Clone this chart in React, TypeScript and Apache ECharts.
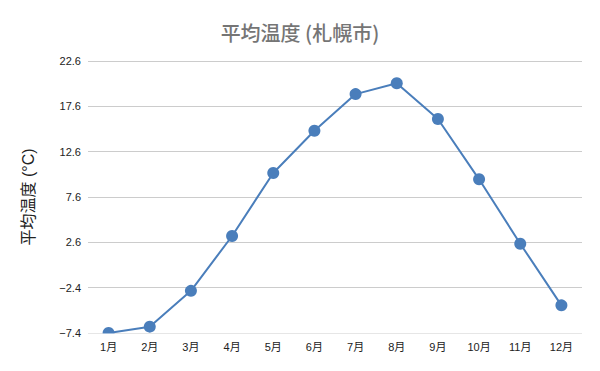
import React, { useEffect, useRef } from "react";
import * as echarts from "echarts";

const months = ["1月", "2月", "3月", "4月", "5月", "6月", "7月", "8月", "9月", "10月", "11月", "12月"];
const avgTemp = [-7.4, -6.7, -2.75, 3.3, 10.25, 14.9, 18.95, 20.15, 16.2, 9.55, 2.45, -4.35];
const yMin = -7.4;
const yMax = 22.6;
const yStep = 5;

const FONT = "'Liberation Sans', Arial, 'Noto Sans CJK JP', sans-serif";
const TITLE_FONT = "'Noto Sans CJK JP', 'Liberation Sans', sans-serif";

export default function App() {
  const ref = useRef<HTMLDivElement>(null);
  useEffect(() => {
    document.body.style.margin = "0";
    if (!ref.current) return;
    const chart = echarts.init(ref.current, undefined, { renderer: "svg" });
    chart.setOption({
      animation: false,
      backgroundColor: "#ffffff",
      textStyle: { fontFamily: FONT },
      title: {
        text: "平均温度 (札幌市)",
        left: "center",
        top: 17,
        textStyle: { fontSize: 20, fontWeight: 500, color: "#757575", fontFamily: TITLE_FONT },
      },
      grid: { left: 88, right: 18, top: 61, bottom: 38, containLabel: false },
      xAxis: {
        type: "category",
        data: months,
        boundaryGap: true,
        axisLine: { show: false },
        axisTick: { show: false },
        axisLabel: { color: "#222222", fontSize: 11, margin: 8, fontFamily: FONT },
      },
      yAxis: {
        type: "value",
        min: yMin,
        max: yMax,
        interval: yStep,
        name: "平均温度 (°C)",
        nameLocation: "middle",
        nameRotate: 90,
        nameGap: 52,
        nameTextStyle: { fontSize: 16, color: "#222222", fontFamily: FONT },
        axisLine: { show: false },
        axisTick: { show: false },
        axisLabel: {
          color: "#222222",
          fontSize: 11,
          margin: 7,
          fontFamily: FONT,
          formatter: (v: number) => (Math.round(v * 10) / 10).toFixed(1).replace("-", "−"),
        },
        splitLine: { lineStyle: { color: "#cccccc", width: 1 } },
      },
      series: [
        {
          type: "line",
          data: avgTemp,
          symbol: "circle",
          symbolSize: 12,
          itemStyle: { color: "#4a7ebb" },
          lineStyle: { color: "#4a7ebb", width: 2 },
          clip: false,
          z: 2,
        },
      ],
    });
    // white mask below the plot area so markers are clipped at the bottom edge like the reference
    const yb = chart.convertToPixel({ yAxisIndex: 0 }, yMin) as number;
    chart.setOption({
      graphic: [
        {
          type: "rect",
          z: 5,
          silent: true,
          shape: { x: 88, y: yb + 0.6, width: 600 - 88 - 18, height: 7 },
          style: { fill: "#ffffff" },
        },
      ],
    });
    return () => chart.dispose();
  }, []);
  return <div ref={ref} style={{ width: 600, height: 371 }} />;
}
